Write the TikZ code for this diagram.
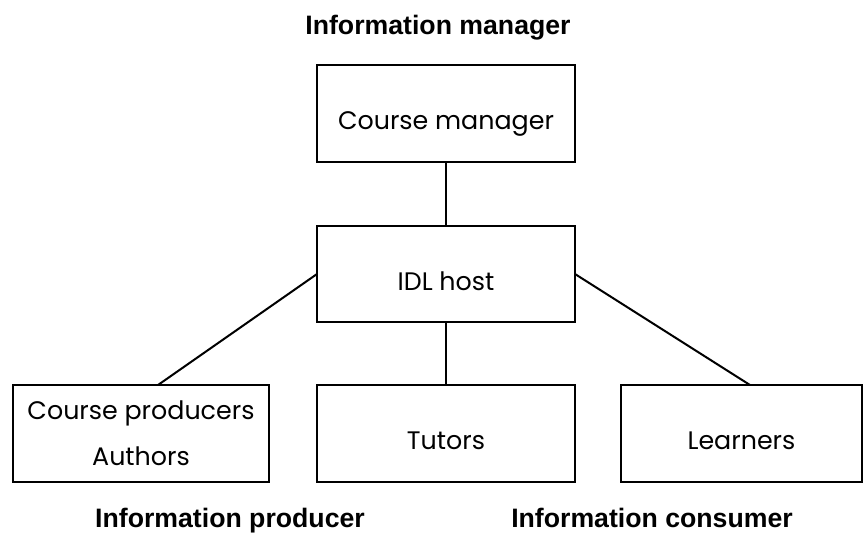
\documentclass[tikz,border=0pt]{standalone}
\usepackage{fontspec}
% Box texts in a geometric sans, headings in a bold grotesque
\newfontfamily\boxfamily{Poppins}
\newfontfamily\headfamily{Liberation Sans}
\newcommand\boxfont{\boxfamily\fontsize{19pt}{34.5pt}\selectfont}
\newcommand\headfont{\headfamily\bfseries\fontsize{20pt}{24pt}\selectfont}

\begin{document}
\begin{tikzpicture}[x=0.75pt,y=-0.75pt,
  unit/.style={draw, line width=1.5pt, inner sep=0pt, outer sep=0pt, font=\boxfont, align=center},
  oneline/.style={text height=24.5pt, text depth=0pt},
  heading/.style={font=\headfont, anchor=base, inner sep=0pt},
  link/.style={line width=1.5pt}]
\useasboundingbox (0,0) rectangle (864,533);

% role boxes
\node[unit, oneline, minimum width=258*0.75pt, minimum height=97*0.75pt] (cm)  at (446,113.5) {Course manager};
\node[unit, oneline, minimum width=258*0.75pt, minimum height=96*0.75pt] (idl) at (446,274)   {IDL host};
\node[unit, minimum width=256*0.75pt, minimum height=97*0.75pt]          (cp)  at (141,433.5) {Course producers\\Authors};
\node[unit, oneline, minimum width=258*0.75pt, minimum height=97*0.75pt] (tut) at (446,433.5) {Tutors};
\node[unit, oneline, minimum width=241*0.75pt, minimum height=97*0.75pt] (lrn) at (741.5,433.5) {Learners};

% connections
\draw[link] (cm.south) -- (idl.north);
\draw[link] (idl.south) -- (tut.north);
\draw[link] (idl.west) -- ([xshift=145*0.75pt]cp.north west);
\draw[link] (idl.east) -- ([xshift=129*0.75pt]lrn.north west);

% information roles
\node[heading] (hm) at (438,34)  {Information manager};
\node[heading] (hp) at (230,527) {Information producer};
\node[heading] (hc) at (652,527) {Information consumer};
\end{tikzpicture}
\end{document}
